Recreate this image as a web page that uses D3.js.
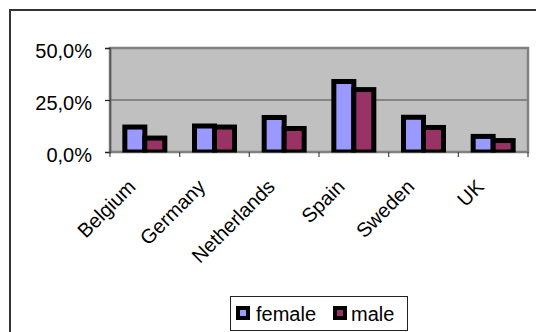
<!DOCTYPE html>
<html>
<head>
<meta charset="utf-8">
<script src="https://cdn.jsdelivr.net/npm/d3@7"></script>
<style>
  html, body { margin: 0; padding: 0; background: #fff; }
  svg { display: block; }
  text { font-family: "Liberation Sans", Arial, sans-serif; fill: #000; }
</style>
</head>
<body>
<svg id="chart" width="536" height="332"></svg>
<script>
// Share of respondents by country, split by sex
const categories = ["Belgium", "Germany", "Netherlands", "Spain", "Sweden", "UK"];
const seriesNames = ["female", "male"];
const femaleValues = [0.120, 0.125, 0.166, 0.339, 0.167, 0.075];
const maleValues   = [0.067, 0.120, 0.113, 0.300, 0.118, 0.055];
const yTicks = [0, 0.25, 0.5];
const colors = { female: "#9999ff", male: "#993366" };

const rows = categories.map((c, i) => ({ category: c, female: femaleValues[i], male: maleValues[i] }));

const svg = d3.select("#chart");

// Outer chart frame (runs past the right and bottom edges)
svg.append("rect")
  .attr("x", 10).attr("y", 10)
  .attr("width", 560).attr("height", 360)
  .attr("fill", "#fff").attr("stroke", "#333").attr("stroke-width", 2);

const plot = { left: 110, right: 528, top: 48, bottom: 152 };

const x0 = d3.scaleBand()
  .domain(categories)
  .range([plot.left, plot.right])
  .paddingInner(0.426)
  .paddingOuter(0.213);

const x1 = d3.scaleBand()
  .domain(seriesNames)
  .range([0, x0.bandwidth()]);

const y = d3.scaleLinear().domain([0, 0.5]).range([plot.bottom, plot.top]);

// Plot area background
svg.append("rect")
  .attr("x", plot.left).attr("y", plot.top)
  .attr("width", plot.right - plot.left).attr("height", plot.bottom - plot.top)
  .attr("fill", "#c0c0c0");

// Horizontal gridlines
svg.append("g")
  .selectAll("line")
  .data(yTicks.filter(t => t > 0 && t < 0.5))
  .join("line")
  .attr("x1", plot.left).attr("x2", plot.right)
  .attr("y1", d => y(d)).attr("y2", d => y(d))
  .attr("stroke", "#4a4a4a").attr("stroke-width", 1.2);

// Plot area border
svg.append("rect")
  .attr("x", plot.left).attr("y", plot.top)
  .attr("width", plot.right - plot.left).attr("height", plot.bottom - plot.top)
  .attr("fill", "none").attr("stroke", "#808080").attr("stroke-width", 2.5);

// Bars, clipped just below the baseline
svg.append("clipPath").attr("id", "barClip")
  .append("rect")
  .attr("x", 0).attr("y", 0)
  .attr("width", 536).attr("height", plot.bottom + 0.5);

const groups = svg.append("g")
  .attr("clip-path", "url(#barClip)")
  .selectAll("g")
  .data(rows)
  .join("g")
  .attr("transform", d => `translate(${x0(d.category)},0)`);

groups.selectAll("rect")
  .data(d => seriesNames.map(s => ({ key: s, value: d[s] })))
  .join("rect")
  .attr("x", d => x1(d.key))
  .attr("y", d => y(d.value))
  .attr("width", x1.bandwidth())
  .attr("height", d => y(0) - y(d.value))
  .attr("fill", d => colors[d.key])
  .attr("stroke", "#000")
  .attr("stroke-width", 5);

// Y axis
const yAxis = d3.axisLeft(y)
  .tickValues(yTicks)
  .tickSize(5)
  .tickPadding(13)
  .tickFormat(d => d3.format(".1f")(d * 100).replace(".", ",") + "%");

const gy = svg.append("g")
  .attr("transform", `translate(${plot.left},0)`)
  .call(yAxis);
gy.select(".domain").attr("stroke", "#555").attr("stroke-width", 1.5);
gy.selectAll(".tick line").attr("stroke", "#222").attr("stroke-width", 1.2);
gy.selectAll(".tick text")
  .attr("font-size", 20)
  .attr("dy", "0.78em")
  .attr("y", -6.5)
  .attr("font-family", "'Liberation Sans', Arial, sans-serif");

// X axis: ticks at category boundaries
const boundaries = categories.map(c => x0(c) - x0.step() * x0.paddingInner() / 2).concat([plot.right]);
svg.append("g")
  .selectAll("line")
  .data(boundaries)
  .join("line")
  .attr("x1", d => d).attr("x2", d => d)
  .attr("y1", plot.bottom).attr("y2", plot.bottom + 5)
  .attr("stroke", "#444").attr("stroke-width", 1.2);

// Category labels, rotated
svg.append("g")
  .selectAll("text")
  .data(categories)
  .join("text")
  .attr("transform", d => `translate(${x0(d) + x0.bandwidth() / 2 - 8},${plot.bottom + 36}) rotate(-45)`)
  .attr("text-anchor", "end")
  .attr("font-size", 20)
  .text(d => d);

// Legend
const legend = svg.append("g");
legend.append("rect")
  .attr("x", 230.5).attr("y", 296.5)
  .attr("width", 177).attr("height", 34)
  .attr("fill", "#fff").attr("stroke", "#222").attr("stroke-width", 1);

const legendItems = [
  { key: "female", x: 236, textX: 256 },
  { key: "male", x: 333, textX: 351 }
];
const li = legend.selectAll("g.item")
  .data(legendItems)
  .join("g")
  .attr("class", "item");
li.append("rect")
  .attr("x", d => d.x).attr("y", 306)
  .attr("width", 14).attr("height", 14)
  .attr("fill", "#000");
li.append("rect")
  .attr("x", d => d.x + 4).attr("y", 310)
  .attr("width", 6).attr("height", 6)
  .attr("fill", d => colors[d.key]);
li.append("text")
  .attr("x", d => d.textX).attr("y", 321)
  .attr("font-size", 20)
  .text(d => d.key);
</script>
</body>
</html>
